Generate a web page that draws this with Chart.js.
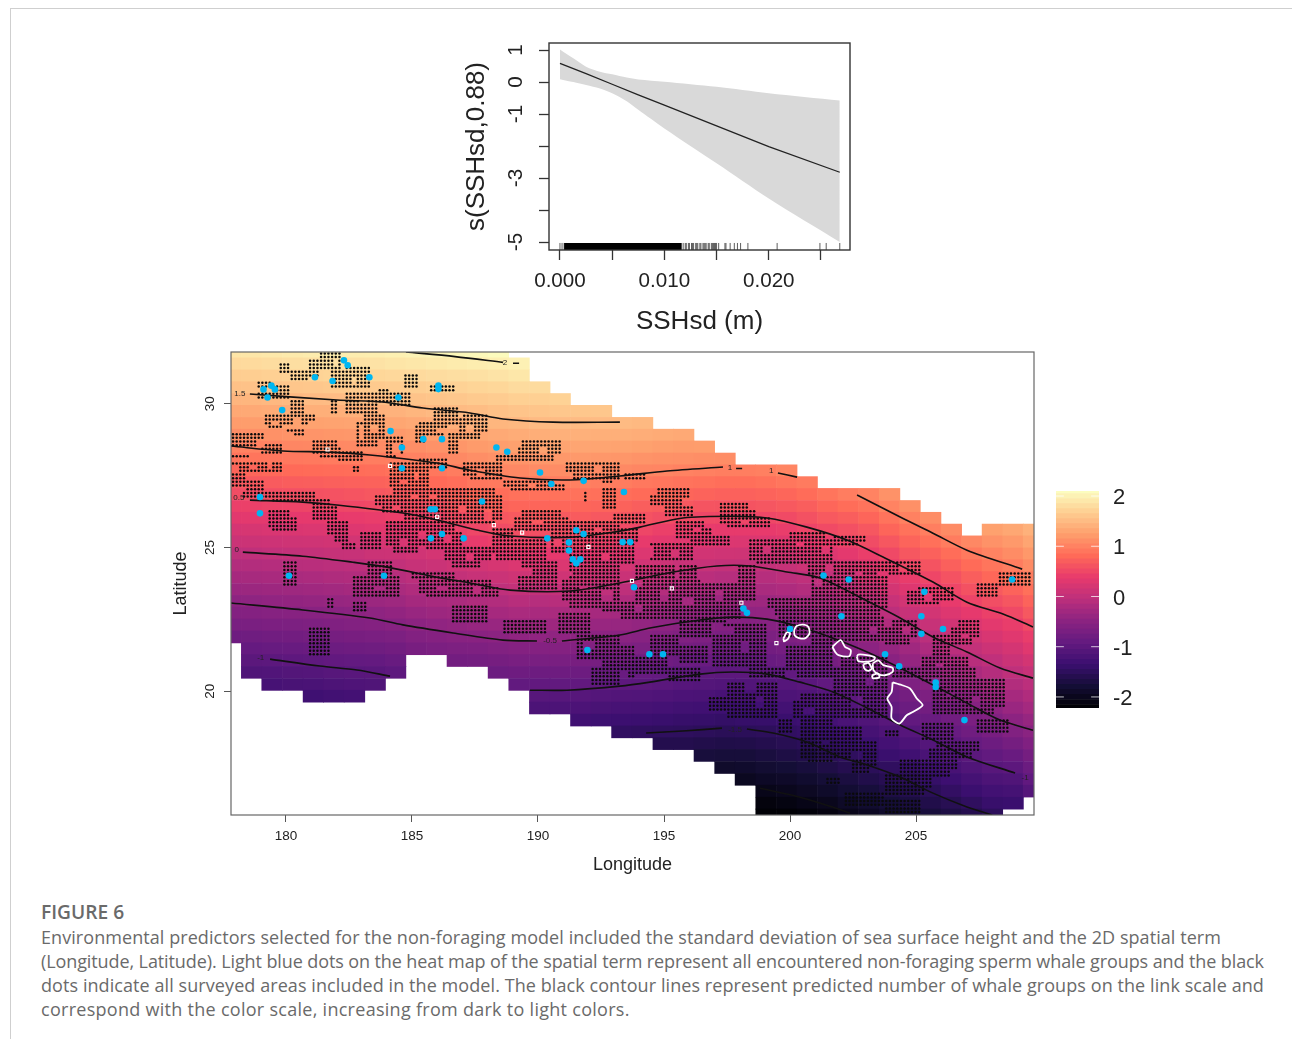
<!DOCTYPE html>
<html>
<head>
<meta charset="utf-8">
<title>Figure 6</title>
<script src="https://cdn.jsdelivr.net/npm/chart.js@4"></script>
<style>
  html, body { margin: 0; padding: 0; background: #fff; }
  body { position: relative; width: 1292px; height: 1039px; overflow: hidden; }
  canvas { position: absolute; display: block; }
  #ruleTop { position: absolute; left: 10px; top: 8px; right: 0; height: 1px; background: #cfcfcf; }
  #ruleLeft { position: absolute; left: 10px; top: 8px; bottom: 0; width: 1px; background: #cfcfcf; }
  #caption { position: absolute; left: 41px; top: 900px; font-family: "Open Sans", sans-serif; color: #6a6a6a; font-size: 18px; line-height: 24px; white-space: nowrap; }
  #caption .head { font-weight: 600; font-size: 19.2px; line-height: 24px; margin-bottom: 1px; }
</style>
</head>
<body>
<div id="ruleTop"></div>
<div id="ruleLeft"></div>
<canvas id="sshChart" width="430" height="310" style="left:440px;top:30px"></canvas>
<canvas id="mapChart" width="890" height="540" style="left:160px;top:340px"></canvas>
<canvas id="barChart" width="100" height="240" style="left:1050px;top:480px"></canvas>
<div id="caption">
  <div class="head">FIGURE 6</div>
  <div style="letter-spacing:0.065px">Environmental predictors selected for the non-foraging model included the standard deviation of sea surface height and the 2D spatial term</div>
  <div style="letter-spacing:-0.1px">(Longitude, Latitude). Light blue dots on the heat map of the spatial term represent all encountered non-foraging sperm whale groups and the black</div>
  <div style="letter-spacing:0.075px">dots indicate all surveyed areas included in the model. The black contour lines represent predicted number of whale groups on the link scale and</div>
  <div style="letter-spacing:0.28px">correspond with the color scale, increasing from dark to light colors.</div>
</div>
<script>
// smooth term panel
const sshBandX = [0, 0.00128, 0.0025, 0.00383, 0.005, 0.0064, 0.0075, 0.01, 0.015, 0.02, 0.0268];
const sshUpper = [1.02, 0.74, 0.48, 0.32, 0.24, 0.14, 0.08, 0.01, -0.15, -0.35, -0.58];
const sshLower = [0.09, 0, -0.09, -0.2, -0.35, -0.6, -0.87, -1.45, -2.54, -3.64, -5.0];
const sshFitX = [0, 0.0025, 0.005, 0.0075, 0.01, 0.015, 0.02, 0.0268];
const sshFit = [0.58, 0.26, -0.07, -0.4, -0.72, -1.37, -2.02, -2.82];
const sshXTicks = [0, 0.005, 0.01, 0.015, 0.02, 0.025];
const sshXLabelled = [0, 0.01, 0.02];
const sshYTicks = [1, 0, -1, -2, -3, -4, -5];
const sshYLabelled = [1, 0, -1, -3, -5];
const rugSolid = [0.0004, 0.01166];
const rugValues = [0, 0.0002, 0.0004, 0.0006, 0.0118, 0.012, 0.0121, 0.0123, 0.0124, 0.0126, 0.0127, 0.0128, 0.013, 0.0131, 0.0132, 0.0134, 0.0135, 0.0137, 0.0138, 0.0139, 0.014, 0.0142, 0.0143, 0.0145, 0.0146, 0.0147, 0.0148, 0.0149, 0.015, 0.0152, 0.0158, 0.0159, 0.0163, 0.0167, 0.017, 0.0173, 0.018, 0.0208, 0.0249, 0.0255, 0.0268];

// spatial term grid: one list per longitude, starting at heatTopRow
const heatLons = [177.82,178.64,179.45,180.27,181.09,181.90,182.72,183.54,184.35,185.17,185.99,186.80,187.62,188.43,189.25,190.07,190.88,191.70,192.52,193.33,194.15,194.97,195.78,196.60,197.42,198.23,199.05,199.87,200.68,201.50,202.31,203.13,203.95,204.76,205.58,206.40,207.21,208.03,208.85,209.66];
const heatLats = [31.80,31.39,30.97,30.56,30.15,29.74,29.32,28.91,28.50,28.08,27.67,27.26,26.85,26.43,26.02,25.61,25.20,24.78,24.37,23.96,23.54,23.13,22.72,22.31,21.89,21.48,21.07,20.66,20.24,19.83,19.42,19.00,18.59,18.18,17.77,17.35,16.94,16.53,16.11,15.70];
const heatTopRow = [0,0,0,0,0,0,0,0,0,0,0,0,0,0,1,3,4,5,5,6,6,7,7,8,9,10,10,10,11,12,12,12,12,13,14,15,16,15,15,15];
const heatValues = [
  [1.87,1.76,1.65,1.54,1.43,1.32,1.21,1.10,.99,.88,.76,.65,.54,.42,.31,.19,.08,-.04,-.15,-.26,-.37,-.48,-.59,-.70,-.82],
  [1.88,1.77,1.66,1.55,1.44,1.33,1.22,1.11,1.0,.89,.77,.66,.55,.43,.32,.2,.09,-.03,-.14,-.25,-.36,-.47,-.58,-.69,-.8,-.91,-1.02,-1.13],
  [1.9,1.79,1.68,1.57,1.46,1.34,1.23,1.12,1.01,.9,.79,.67,.56,.45,.33,.22,.11,0,-.12,-.23,-.34,-.45,-.56,-.67,-.78,-.89,-1.01,-1.12,-1.23],
  [1.92,1.81,1.7,1.59,1.47,1.36,1.25,1.14,1.03,.92,.8,.69,.57,.46,.35,.23,.12,.01,-.1,-.22,-.33,-.44,-.55,-.66,-.77,-.88,-.99,-1.1,-1.21],
  [1.94,1.82,1.71,1.6,1.49,1.38,1.26,1.15,1.04,.93,.81,.7,.58,.47,.35,.24,.13,.02,-.09,-.2,-.31,-.42,-.53,-.64,-.75,-.86,-.98,-1.09,-1.2,-1.31],
  [1.95,1.83,1.72,1.61,1.5,1.38,1.27,1.16,1.05,.94,.82,.71,.59,.48,.37,.26,.15,.04,-.07,-.18,-.29,-.4,-.51,-.62,-.73,-.84,-.95,-1.06,-1.17,-1.28],
  [1.95,1.84,1.73,1.62,1.51,1.39,1.28,1.17,1.06,.95,.83,.72,.61,.49,.38,.27,.16,.05,-.05,-.16,-.27,-.38,-.49,-.6,-.71,-.82,-.93,-1.04,-1.15,-1.26],
  [1.96,1.85,1.74,1.62,1.51,1.4,1.29,1.17,1.07,.96,.84,.73,.63,.51,.4,.3,.19,.09,-.03,-.14,-.25,-.36,-.47,-.58,-.69,-.8,-.92,-1.03,-1.14],
  [1.98,1.87,1.75,1.64,1.52,1.41,1.3,1.19,1.08,.97,.86,.75,.65,.53,.42,.31,.21,.1,0,-.11,-.22,-.33,-.44,-.55,-.66,-.77,-.88,-.99],
  [2,1.89,1.77,1.66,1.56,1.44,1.33,1.22,1.1,1.0,.88,.77,.67,.56,.45,.35,.25,.14,.05,-.06,-.17,-.27,-.38,-.49,-.6,-.71],
  [2.02,1.91,1.79,1.68,1.58,1.47,1.35,1.24,1.13,1.02,.91,.8,.7,.59,.48,.38,.28,.18,.08,-.02,-.13,-.24,-.35,-.46,-.57,-.68],
  [2.04,1.93,1.81,1.7,1.6,1.49,1.38,1.27,1.16,1.06,.95,.84,.74,.64,.54,.44,.34,.23,.13,.01,-.1,-.21,-.32,-.43,-.54,-.65,-.76],
  [2.05,1.95,1.83,1.72,1.62,1.51,1.41,1.3,1.2,1.1,1.0,.9,.8,.69,.59,.49,.38,.27,.16,.05,-.06,-.17,-.29,-.4,-.52,-.64,-.75],
  [2.08,1.97,1.86,1.74,1.64,1.54,1.44,1.33,1.23,1.13,1.03,.93,.83,.73,.63,.53,.42,.31,.2,.08,-.03,-.15,-.26,-.38,-.5,-.61,-.73,-.84],
  [1.99,1.89,1.78,1.68,1.57,1.46,1.35,1.25,1.15,1.05,.96,.86,.76,.66,.56,.46,.35,.24,.12,.01,-.1,-.22,-.34,-.46,-.58,-.7,-.82,-.94],
  [1.78,1.68,1.58,1.48,1.37,1.27,1.17,1.07,.96,.86,.76,.66,.56,.45,.34,.23,.12,.01,-.11,-.23,-.34,-.46,-.58,-.7,-.83,-.95,-1.06,-1.18],
  [1.7,1.6,1.49,1.39,1.28,1.18,1.08,.97,.87,.77,.66,.56,.46,.35,.24,.13,.02,-.1,-.22,-.34,-.46,-.58,-.7,-.82,-.94,-1.06,-1.18],
  [1.6,1.49,1.39,1.29,1.19,1.08,.98,.87,.77,.67,.56,.46,.35,.24,.13,.02,-.1,-.23,-.35,-.47,-.59,-.71,-.83,-.95,-1.06,-1.18,-1.3],
  [1.6,1.49,1.38,1.28,1.17,1.07,.96,.85,.75,.64,.54,.43,.32,.2,.09,-.03,-.14,-.26,-.38,-.49,-.61,-.73,-.85,-.97,-1.09,-1.21,-1.33],
  [1.49,1.38,1.27,1.16,1.06,.95,.84,.73,.63,.52,.41,.3,.18,.07,-.04,-.16,-.28,-.39,-.51,-.63,-.75,-.87,-.99,-1.11,-1.23,-1.35,-1.47],
  [1.47,1.36,1.25,1.14,1.03,.92,.81,.7,.59,.48,.36,.25,.14,.02,-.09,-.2,-.32,-.43,-.55,-.66,-.78,-.89,-1.0,-1.12,-1.24,-1.36,-1.48],
  [1.34,1.23,1.12,1.02,.9,.79,.67,.55,.43,.32,.21,.1,-.02,-.13,-.24,-.35,-.47,-.58,-.69,-.81,-.92,-1.03,-1.15,-1.26,-1.38,-1.49,-1.61],
  [1.33,1.21,1.11,1.0,.88,.76,.64,.52,.41,.29,.18,.06,-.05,-.17,-.28,-.39,-.5,-.61,-.73,-.85,-.96,-1.07,-1.18,-1.29,-1.4,-1.5,-1.61],
  [1.22,1.1,.98,.86,.74,.61,.49,.38,.27,.15,.04,-.08,-.19,-.31,-.42,-.53,-.64,-.75,-.87,-.98,-1.09,-1.19,-1.3,-1.41,-1.52,-1.63,-1.74],
  [1.09,.97,.84,.72,.6,.48,.36,.25,.13,.01,-.11,-.22,-.34,-.45,-.57,-.68,-.79,-.9,-1.0,-1.11,-1.22,-1.32,-1.43,-1.54,-1.65,-1.76,-1.88],
  [.97,.84,.72,.6,.48,.36,.24,.12,0,-.11,-.23,-.34,-.46,-.57,-.68,-.79,-.89,-1,-1.11,-1.21,-1.31,-1.41,-1.53,-1.64,-1.76,-1.87,-1.98],
  [.98,.86,.74,.62,.49,.37,.25,.13,.01,-.11,-.22,-.34,-.45,-.56,-.66,-.77,-.88,-.98,-1.09,-1.19,-1.3,-1.4,-1.51,-1.61,-1.72,-1.82,-1.93,-2.04,-2.14,-2.2],
  [1.02,.9,.77,.65,.52,.4,.28,.16,.04,-.07,-.19,-.3,-.42,-.53,-.63,-.74,-.85,-.96,-1.07,-1.17,-1.27,-1.37,-1.47,-1.57,-1.68,-1.79,-1.9,-2.0,-2.11,-2.2],
  [.94,.82,.7,.58,.46,.34,.22,.1,-.02,-.14,-.25,-.37,-.49,-.6,-.7,-.81,-.92,-1.03,-1.13,-1.23,-1.33,-1.43,-1.53,-1.64,-1.74,-1.85,-1.95,-2.06,-2.17],
  [.89,.77,.65,.52,.39,.26,.13,0,-.1,-.21,-.32,-.42,-.53,-.64,-.75,-.86,-.96,-1.07,-1.17,-1.26,-1.36,-1.46,-1.56,-1.67,-1.78,-1.89,-2.01,-2.12],
  [.96,.83,.7,.57,.45,.33,.22,.1,-.01,-.13,-.24,-.36,-.47,-.58,-.68,-.79,-.9,-1.01,-1.11,-1.2,-1.3,-1.4,-1.49,-1.6,-1.71,-1.81,-1.92,-2.03],
  [1.01,.88,.76,.63,.53,.41,.3,.19,.07,-.04,-.16,-.28,-.39,-.5,-.61,-.71,-.82,-.93,-1.04,-1.14,-1.24,-1.33,-1.43,-1.53,-1.64,-1.75,-1.85,-1.96],
  [1.13,1.01,.88,.76,.63,.51,.4,.28,.17,.06,-.06,-.17,-.29,-.41,-.52,-.63,-.74,-.84,-.95,-1.05,-1.16,-1.26,-1.37,-1.48,-1.58,-1.68,-1.78,-1.88],
  [1.11,.99,.87,.75,.63,.5,.39,.27,.16,.05,-.07,-.19,-.31,-.42,-.54,-.64,-.75,-.85,-.95,-1.07,-1.18,-1.3,-1.41,-1.52,-1.62,-1.72,-1.83],
  [1.09,.97,.85,.72,.6,.48,.37,.27,.16,.05,-.07,-.19,-.31,-.43,-.55,-.65,-.76,-.87,-.98,-1.09,-1.2,-1.31,-1.42,-1.54,-1.64,-1.74],
  [1.07,.95,.83,.71,.59,.48,.37,.26,.15,.04,-.08,-.2,-.33,-.45,-.56,-.67,-.78,-.89,-1.0,-1.11,-1.22,-1.34,-1.45,-1.57,-1.68],
  [1.05,.93,.81,.7,.58,.46,.35,.24,.13,.01,-.1,-.22,-.34,-.46,-.57,-.68,-.79,-.9,-1.02,-1.13,-1.25,-1.36,-1.48,-1.6],
  [1.25,1.13,1.01,.89,.78,.66,.55,.43,.32,.21,.1,-.02,-.13,-.25,-.36,-.48,-.6,-.71,-.83,-.94,-1.05,-1.17,-1.28,-1.39,-1.51],
  [1.31,1.19,1.08,.96,.85,.74,.62,.51,.4,.29,.18,.08,-.03,-.15,-.26,-.37,-.49,-.61,-.74,-.87,-1.0,-1.13,-1.25,-1.37],
  [1.4,1.29,1.18,1.07,.96,.85,.74,.64,.52,.4,.29,.17,.06,-.06,-.17,-.28,-.4,-.51,-.62,-.74,-.85,-.96,-1.08]
];
const colorbarLevels = [2.1,2,1.9,1.8,1.7,1.6,1.5,1.4,1.3,1.2,1.1,1,.9,.8,.7,.6,.5,.4,.3,.2,.1,0,-.1,-.2,-.3,-.4,-.5,-.6,-.7,-.8,-.9,-1,-1.1,-1.2,-1.3,-1.4,-1.5,-1.6,-1.7,-1.8,-1.9,-2,-2.1,-2.2];
const colorbarTicks = [2, 1, 0, -1, -2];

// contour lines as [lon, lat], null where the line breaks for a label
const contour2 = [[184.76,31.8],[186.71,31.64],[188.61,31.44],null,[189.01,31.41],[189.25,31.41]];
const contour15 = [[178.57,30.34],[182.02,30.13],[183.85,30.06],[185.44,29.85],[187.3,29.68],[188.61,29.47],[190.6,29.36],[193.25,29.36]];
const contour1 = [[177.82,28.53],[179.88,28.36],[181.75,28.32],[183.33,28.22],[185.99,27.94],[187.3,27.69],[189.29,27.42],[191.27,27.35],[193.25,27.49],[195.12,27.66],[197.34,27.8],null,[197.86,27.75],[198.1,27.75],null,[199.52,27.59],[200.28,27.45],null,[202.66,26.83],[204.37,26.06],[205.67,25.5],[207.02,24.91],[209.21,24.25]];
const contour05 = [[178.57,26.65],[180.67,26.58],[182.02,26.48],[184.64,26.2],[185.99,25.96],[187.58,25.61],[188.89,25.4],[191.27,25.36],[193.25,25.57],[194.05,25.71],[195.75,26.03],[197.74,26.09],[199.09,26.03],[200.67,25.71],[202.26,25.26],[203.69,24.67],[205.67,23.8],[207.02,23.1],[208.45,22.69],[209.64,22.24]];
const contour0 = [[178.29,24.84],[180.67,24.7],[182.66,24.49],[184.01,24.32],[185.99,23.97],[187.3,23.77],[188.89,23.52],[191.27,23.49],[193.25,23.77],[195.36,24.15],[197.1,24.36],[198.41,24.36],[199.88,24.15],[201.19,23.94],[203.06,23.14],[204.37,22.55],[205.67,21.89],[207.02,21.37],[208.33,20.81],[209.64,20.46]];
const contourM05 = [[177.82,23.07],[180.67,22.83],[183.33,22.55],[184.64,22.31],[186.63,22.03],[188.61,21.78],[189.96,21.75],null,[190.95,21.75],[193.25,21.96],[194.44,22.2],[196.43,22.48],[197.74,22.58],[199.09,22.51],[200.4,22.24],[201.71,21.85],[203.06,21.37],[204.37,20.81],[205.67,20.22],[207.02,19.59],[208.33,19.0],[209.64,18.65]];
const contourM1 = [[179.37,21.12],[181.35,20.88],[182.82,20.74],[184.13,20.53],null,[189.68,20.04],[191.15,20.04],[193.25,20.18],[194.44,20.32],[196.43,20.6],[197.74,20.67],[199.09,20.6],[200.4,20.32],[201.71,19.98],[203.06,19.42],[204.37,18.83],[205.67,18.31],[207.02,17.72],[208.93,17.16]];
const contourM15 = [[194.29,18.55],[195.75,18.62],[197.3,18.72],null,[198.29,18.69],[199.33,18.55],[200.67,18.24],[201.98,17.72],[203.06,17.44],[204.37,17.02],[205.67,16.46],[207.02,15.98],[208.02,15.7]];
const contourM2 = [[198.81,16.63],[200.4,16.32],[201.71,15.97],[202.38,15.76]];
const contourLabelText = ['2', '1.5', '1', '1', '0.5', '0', '-0.5', '-1', '-1', '-1.5'];
const contourLabelLon = [188.69, 178.17, 197.62, 199.25, 178.13, 178.05, 190.48, 179.0, 209.33, 197.82];
const contourLabelLat = [31.41, 30.34, 27.76, 27.66, 26.72, 24.91, 21.75, 21.15, 17.01, 18.68];

// encountered groups
const groupLons = [182.3,182.45,181.15,181.85,183.31,186.05,186.05,179.42,179.11,179.56,179.27,184.46,179.85,184.15,184.6,185.45,186.19,188.35,188.78,184.6,186.19,190.08,190.53,191.81,178.97,178.97,187.78,185.74,185.91,185.75,186.19,187.05,190.37,191.23,191.23,191.52,191.81,191.38,191.52,191.68,180.12,183.89,193.41,193.36,193.66,193.81,201.33,202.33,205.33,208.81,198.15,198.29,191.96,202.04,205.21,205.21,206.07,200,194.42,194.96,203.77,204.33,205.78,205.78,206.92];
const groupLats = [31.51,31.34,30.92,30.79,30.92,30.63,30.51,30.63,30.5,30.5,30.22,30.22,29.78,29.05,28.48,28.77,28.77,28.48,28.33,27.76,27.76,27.61,27.21,27.32,26.76,26.19,26.6,26.33,26.33,25.32,25.47,25.32,25.32,25.18,24.9,25.6,25.47,24.59,24.45,24.59,24.02,24.02,26.93,25.19,25.19,23.62,24.03,23.89,23.46,23.89,22.88,22.73,21.44,22.61,22.61,22,22.17,22.17,21.29,21.29,21.29,20.87,20.31,20.15,19];

// small white islets
const isletLons = [181.65,184.13,186.0,188.25,189.37,192.0,193.73,195.31,198.07,199.46];
const isletLats = [28.41,27.84,26.07,25.78,25.52,25.02,23.84,23.58,23.08,21.68];

const islandKauai = [[200.16,22.13],[200.26,22.27],[200.53,22.32],[200.73,22.24],[200.77,22.01],[200.59,21.84],[200.33,21.86],[200.18,21.95]];
const islandNiihau = [[199.74,21.84],[199.87,22.05],[200.0,22.03],[199.93,21.84],[199.76,21.74]];
const islandOahu = [[201.68,21.55],[202.01,21.78],[202.18,21.55],[202.41,21.43],[202.35,21.22],[201.92,21.26],[201.79,21.37]];
const islandMolokai = [[202.65,21.2],[202.71,21.28],[203.04,21.26],[203.37,21.18],[203.31,21.08],[203.04,21.03],[202.71,21.05]];
const islandLanai = [[202.91,20.94],[203.11,20.99],[203.24,20.79],[203.11,20.71],[202.95,20.79]];
const islandMaui = [[203.28,20.97],[203.5,21.08],[203.7,20.91],[204.07,20.82],[204.07,20.68],[203.77,20.56],[203.5,20.6],[203.31,20.74]];
const islandKahoolawe = [[203.25,20.56],[203.5,20.62],[203.54,20.48],[203.28,20.46]];
const islandHawaii = [[204.07,20.31],[204.43,20.22],[204.76,20.1],[205.03,19.75],[205.26,19.52],[204.89,19.29],[204.63,19.17],[204.34,18.88],[204.03,19.06],[204.03,19.46],[203.86,19.75],[204.03,19.98]];
const islands = [islandKauai, islandNiihau, islandOahu, islandMolokai, islandLanai, islandMaui, islandKahoolawe, islandHawaii];

// surveyed patches on the survey grid: [lon min, lon max, lat min, lat max]
const surveyLonOrigin = 177.9, surveyLonStep = 0.1456;
const surveyLatOrigin = 15.8, surveyLatStep = 0.1276;
const surveyPatches = [
  [178.85,179.45,30.5,30.85],[179.45,180.15,30.1,30.7],[178.9,179.4,30.1,30.35],[180.1,180.8,29.7,30.15],[179.1,179.9,29.15,29.65],[179.9,181.2,29.2,29.6],[180,180.7,28.85,29.15],[178.8,178.9,29.3,29.65],
  [179.7,180.2,31.0,31.4],[180.2,180.95,30.75,31.15],[180.95,181.35,30.9,31.55],[181.35,182.2,31.2,31.75],[181.75,182.3,30.5,31.2],[182.3,183.35,30.5,31.3],[181.7,182,29.7,30.1],[182.4,183.6,29.6,30.45],
  [183.6,184.1,30,30.5],[184.1,184.9,29.85,30.35],[182.8,184,28.45,29.6],[184,184.7,28.1,28.9],[185.05,186.4,28.9,29.4],[185.05,185.6,28.6,28.9],[185.85,186.8,29.3,29.95],[186.8,187.95,28.7,29.65],[186.4,186.9,28.3,28.95],
  [184.6,185.3,30.6,31.1],[185.7,186.65,30.4,30.7],[177.9,179.2,28.55,28.95],[178.95,179.9,28.3,28.65],[177.9,178.6,28.05,28.3],[177.9,179.8,27.6,28],[177.9,178.35,27.15,27.55],[178.4,179.1,26.9,27.4],[178.2,179.4,26.65,27],
  [179.4,181.2,26.6,26.95],[181,181.75,26.25,26.7],[179.25,180.5,25.5,26.35],[181.1,182.1,25.9,26.5],[181.65,182.55,25.2,25.9],[182.2,182.8,24.95,25.2],[181.05,182.25,28.05,28.7],[182,183.05,28,28.35],[182.7,182.95,27.6,27.85],
  [184.1,185.65,27.1,27.95],[184.2,185.55,26.85,27.1],[185.3,186.4,27.7,28.15],[187.05,188.6,27.3,27.95],[188.6,191.1,27,27.4],[189.15,191,28,28.75],[188.3,189.15,28,28.25],[191.05,193.25,27.4,27.98],[191.8,192,26.6,26.95],[192.6,193.1,26.35,26.95],
  [183.5,185.45,26.15,26.85],[185.2,188.6,26.45,27.05],[184.7,188.6,25.8,26.45],[184,185.6,24.85,25.9],[185.6,187,24.9,25.8],[182.95,183.85,24.95,25.55],[186.25,188.1,24.3,25.1],[188.1,189,24.85,25.65],[189,191.25,25.55,26.35],[188.25,190.35,24.6,25.3],[189.4,190.85,24.05,24.6],
  [190.5,193.25,24.85,26],[191.15,193.25,23.95,24.85],[182.65,184.5,23.25,24],[183.2,184.25,24.05,24.5],[184.9,186.65,23.95,24.2],[185.2,188.5,23.25,23.95],[189.15,190.75,23.55,24],[190.9,193.25,22.9,23.9],[179.85,180.4,23.7,24.6],[181.55,181.9,22.9,23.25],[182.65,183.2,22.75,23.1],
  [186.6,187.95,22.4,23.05],[188.6,190.4,21.95,22.45],[190.75,192.1,21.95,22.75],[191.55,193.25,21.1,22.05],[192.05,193.25,20.25,20.9],[180.95,181.75,21.25,22.2],
  [192.46,193,27.2,28],[192.46,193.1,26.35,27.15],[193.45,194.25,27.4,27.65],[194.4,196,26.5,27.05],[195,196.15,26.1,26.4],[193,194.3,25.85,26.15],[192.46,194.05,25.2,25.7],[192.46,193.9,24.4,25.2],[192.46,193.25,23.65,24.4],[193.9,195.5,23.95,24.4],[194.45,196.15,24.5,25.2],[195.5,196.95,25.3,26],[196,197.6,25,25.4],
  [197.2,198.65,25.65,26.55],[197.2,199.2,25.65,26.1],[198.3,200.65,24.4,25.35],[200,201.7,24.4,25.6],[201.7,203.05,25,25.4],[200.65,201.45,24,24.55],[201.7,203.85,23.45,24.5],[203.45,205.15,24,24.55],[204.65,206.5,23,23.7],[207.35,208.3,23.3,23.8],[208.33,209.5,23.7,24.1],
  [193.9,196.4,22.65,23.93],[196.4,197.9,22.65,23.8],[197.9,198.65,23.1,24.4],[199.05,200.9,22.65,23.25],[200.9,203.95,22.65,24],[195.6,196.3,23.8,24.4],
  [192.46,193.25,22.7,23.17],[193.25,195.9,22.55,23.17],[195.9,198,22.55,23.17],[195.65,197.5,21.85,22.5],[194.45,195.65,21.25,22.05],[192.46,193.8,20.75,21.65],[195.65,196.8,20.95,21.55],[192.7,193.1,20.5,20.8],[193.5,193.9,20.4,20.8],[193.8,195.1,20.55,21.25],[195.1,196.4,20.3,20.8],
  [196.95,199.05,20.85,22.35],[198.3,199.85,20.5,20.85],[197.5,199.5,19.1,20.3],[196.7,197.75,19.3,19.8],[199.5,200.9,21.9,22.65],[200.9,201.7,21.65,22.7],[199.85,201.7,20.5,21.65],[201.7,203.8,21.7,22.7],[203.8,205.1,21.55,22.5],[201.7,203.95,19.8,21.2],[200.05,201.7,18.75,20],[199.5,200.1,18.55,19],[201.7,203.85,19.1,19.8],
  [200.4,202.9,17.7,18.75],[200.65,201.7,17.5,17.7],[202.4,203.45,17.15,18.3],[203.7,204.35,18.4,18.65],[201.45,202,16.7,17.05],[202.1,203.7,15.95,16.55],[203.7,205.7,16.35,17.15],[203.7,205.2,15.78,16.2],[204.37,206.7,16.98,17.6],[205.45,207.55,17.62,18.3],[205.2,206.5,18.3,18.9],
  [205.7,208.5,19.2,20.5],[207.4,208.7,18.55,19],[205.15,207.4,20.3,21.2],[206.35,207.6,21.55,22.47],[205.7,206.35,21.2,22],[204,205.7,20.4,20.85]
];
// unsurveyed holes and notches in those patches
const surveyGaps = [
  [183.4,183.7,29.0,29.3],[182.9,183.1,28.8,29.2],[184.3,184.5,28.3,28.6],[186.0,186.4,29.0,29.15],[187.2,187.5,29,29.3],[180.3,180.6,29.3,29.5],[179.5,179.7,29.2,29.4],[182.9,183.2,30,30.2],[182.6,182.8,30.7,30.95],[181.9,182.1,31.3,31.5],
  [178.5,178.8,27.7,27.9],[179.3,179.5,27.7,28],[185.1,185.3,27.4,27.6],[184.5,184.8,27.2,27.4],[187.6,187.9,27.5,27.7],[190,190.3,28.3,28.5],[189.6,189.9,27.1,27.25],[192.2,192.5,27.6,27.8],[184.2,184.5,26.3,26.5],[185.7,186,26.7,26.9],
  [186.8,187.1,26.2,26.5],[187.9,188.2,26,26.3],[185.2,185.5,25.3,25.5],[184.5,184.8,25.1,25.3],[186.3,186.6,25.2,25.4],[187.2,187.5,24.6,24.8],[189.8,190.2,25.8,26],[190.7,191,25.1,25.3],[192.3,192.6,25.5,25.7],[192.5,192.8,24.5,24.8],
  [191.7,192,23.5,23.7],[192.6,193,23.2,23.5],[186,186.4,23.5,23.7],[187.4,187.7,23.4,23.6],[183.5,183.9,23.5,23.7],[191.8,192.2,21.5,21.7],
  [194.2,194.6,24.7,25],[195.3,195.6,24.7,24.9],[196.2,196.5,25.5,25.7],[198,198.3,25.8,26],[199,199.3,24.8,25],[200.2,200.5,25,25.2],[201.2,201.5,24.8,25],[202.6,202.9,24,24.2],[204.3,204.6,24.2,24.4],[205.3,205.6,23.2,23.4],
  [194.8,195.2,23.2,23.5],[195.8,196.1,23,23.3],[197.1,197.4,23.2,23.5],[193.9,194.2,22.7,23],[197.4,197.8,22,22.3],[198,198.4,21.4,21.7],[198.2,198.6,20,20.3],[198.6,199,19.5,19.8],[200.6,201,19.2,19.5],[202.5,202.8,19.5,19.8],
  [203,203.3,20.2,20.5],[201.3,201.6,18.1,18.3],[206.2,206.5,19.8,20],[207.2,207.5,19.5,19.8],[205.8,206.1,20.8,21],[206.8,207.1,21.8,22],[203.2,203.5,22,22.3],[204.5,204.8,22,22.2],
  [185.05,185.3,29.2,29.4],[186.2,186.4,28.9,29.1],[187.7,187.95,28.7,29],[186.8,187,29.5,29.65],[183.7,184,28.45,28.7],[182.8,183,29.4,29.6],[184.4,184.7,28.1,28.3],[180,180.3,28.85,29],[180.9,181.2,29.2,29.35],[179.1,179.3,29.15,29.3],
  [177.9,178.1,27.6,27.8],[178.9,179.2,28.55,28.7],[181.05,181.3,28.05,28.25],[182,182.25,28.5,28.7],[188.6,188.9,27,27.15],[190.7,191.1,27.25,27.4],[189.15,189.4,28.5,28.75],[190.7,191,28,28.2],[191.05,191.3,27.4,27.55],[187.05,187.3,27.3,27.5],
  [183.5,183.8,26.15,26.4],[184.9,185.2,26.65,26.85],[188.3,188.6,26.8,27.05],[188.3,188.6,25.8,26],[184,184.2,24.85,25.1],[185.3,185.6,24.85,25],[186.7,187,25.5,25.8],[181.65,181.9,25.2,25.4],[179.25,179.5,25.5,25.7],[180.2,180.5,26.1,26.35],
  [186.25,186.5,24.3,24.5],[187.8,188.1,24.3,24.5],[189,189.3,26.1,26.35],[191,191.25,26.1,26.35],[189.4,189.7,24.05,24.25],[185.2,185.6,23.25,23.45],[188.1,188.5,23.7,23.95],[190.9,191.2,22.9,23.1],[191.15,191.4,24,24.2],
  [194.4,194.7,26.8,27.05],[195.7,196,26.5,26.7],[196.6,196.95,25.7,26],[198.3,198.65,26.3,26.55],[197.2,197.5,25.65,25.85],[198.3,198.6,24.4,24.6],[201.4,201.7,25.3,25.6],[202.7,203.05,25,25.15],[203.5,203.85,24,24.2],[205.9,206.5,23,23.2],
  [204.65,205,23.5,23.7],[193.9,194.2,23.7,23.93],[199.05,199.4,22.65,22.9],[201,201.3,23.6,23.9],[203.6,203.95,22.65,22.9],[203.8,204.1,22.2,22.5],[204.8,205.1,21.55,21.8],[199.85,200.2,20.5,20.75],[196.95,197.3,22,22.35],[200.05,200.4,19.7,20],
  [200.05,200.4,18.75,19],[201.7,202,20.9,21.2],[202.5,202.9,17.7,17.95],[203.1,203.45,17.15,17.4],[205.3,205.7,16.35,16.6],[206.3,206.7,17.0,17.3],[207.2,207.55,17.62,17.85],[205.45,205.75,18,18.3],[205.7,206,20.2,20.5],[208.1,208.5,19.2,19.5],
  [207.1,207.4,20.8,21.2],[207.3,207.6,21.55,21.8],[206.35,206.6,22.2,22.47]
];
const mapXTicks = [180, 185, 190, 195, 200, 205];
const mapYTicks = [20, 25, 30];
const magmaStops = ['#000004','#140e36','#3b0f70','#641a80','#8c2381','#bc2f7c','#e83a6c','#ff6a58','#fe9f6d','#fecf92','#fcfdbf'];

function hexRgb(hex) {
    return [1, 3, 5].map(i => parseInt(hex.slice(i, i + 2), 16));
}
function heatColor(v) {
    const t = Math.min(1, Math.max(0, (v + 2.22) / 4.32)) * (magmaStops.length - 1);
    const i = Math.min(magmaStops.length - 2, Math.floor(t));
    const a = hexRgb(magmaStops[i]), b = hexRgb(magmaStops[i + 1]);
    const c = a.map((n, k) => Math.round(n + (b[k] - n) * (t - i)));
    return `rgb(${c[0]},${c[1]},${c[2]})`;
}
function fixedTicks(values) {
    return scale => { scale.ticks = values.map(value => ({ value })); };
}
function toXY(list) {
    return list.map(p => p ? { x: p[0], y: p[1] } : { x: null, y: null });
}
// keep the plot area where the layout padding puts it, labels may overhang
function fitScale(size) {
    return s => {
        if (s.isHorizontal()) s.height = size; else s.width = size;
        s.paddingTop = s.paddingBottom = s.paddingLeft = s.paddingRight = 0;
    };
}

const boxPlugin = {
    id: 'box',
    afterDraw(chart, args, opts) {
        const { ctx, chartArea: a } = chart;
        ctx.save();
        ctx.strokeStyle = opts.color;
        ctx.lineWidth = opts.width;
        ctx.strokeRect(a.left, a.top, a.right - a.left, a.bottom - a.top);
        ctx.restore();
    }
};
Chart.register(boxPlugin);
Chart.defaults.font.family = '"Liberation Sans", Arial, sans-serif';
Chart.defaults.animation = false;
Chart.defaults.responsive = false;
Chart.defaults.devicePixelRatio = 1;
Chart.defaults.events = [];
Chart.defaults.plugins.legend.display = false;
Chart.defaults.plugins.tooltip.enabled = false;

// top panel
new Chart(document.getElementById('sshChart'), {
    type: 'line',
    data: {
        datasets: [
            { data: sshBandX.map((x, i) => ({ x, y: sshUpper[i] })), borderWidth: 0, pointRadius: 0, backgroundColor: '#d9d9d9', fill: '+1', tension: 0.3, order: 5 },
            { data: sshBandX.map((x, i) => ({ x, y: sshLower[i] })), borderWidth: 0, pointRadius: 0, tension: 0.3, order: 5 },
            { data: sshFitX.map((x, i) => ({ x, y: sshFit[i] })), borderColor: '#222', borderWidth: 1.3, pointRadius: 0, order: 2 },
            { data: rugSolid.map(x => ({ x, y: -5.14 })), borderColor: '#000', borderWidth: 7, pointRadius: 0, order: 1 },
            { type: 'scatter', data: rugValues.map(x => ({ x, y: -5.14 })), pointStyle: 'line', pointRotation: 90, pointRadius: 3.5, pointBorderWidth: 0.8, pointBorderColor: 'rgba(0,0,0,0.8)', order: 1 }
        ]
    },
    options: {
        layout: { padding: { top: 13, right: 20 } },
        plugins: { box: { color: '#333', width: 1.4 } },
        scales: {
            x: {
                type: 'linear', min: -0.00105, max: 0.02778, offset: false,
                grid: { drawOnChartArea: false, tickLength: 10, tickColor: '#333', tickWidth: 1.3 },
                border: { display: false },
                afterBuildTicks: fixedTicks(sshXTicks),
                afterFit: fitScale(90),
                ticks: {
                    autoSkip: false, maxRotation: 0, padding: 9, color: '#222', font: { size: 20.6 },
                    callback: v => sshXLabelled.includes(v) ? v.toFixed(3) : ''
                },
                title: { display: true, text: 'SSHsd (m)', color: '#222', font: { size: 26 }, padding: { top: 0, bottom: 3 } }
            },
            y: {
                type: 'linear', min: -5.25, max: 1.22,
                grid: { drawOnChartArea: false, tickLength: 10, tickColor: '#333', tickWidth: 1.3 },
                border: { display: false },
                afterBuildTicks: fixedTicks(sshYTicks),
                afterFit: fitScale(109),
                ticks: {
                    autoSkip: false, minRotation: 90, maxRotation: 90, crossAlign: 'center', padding: 14, color: '#222', font: { size: 20.6 },
                    callback: v => sshYLabelled.includes(v) ? String(v) : ''
                },
                title: { display: true, text: 's(SSHsd,0.88)', color: '#222', font: { size: 26 }, padding: { top: 21, bottom: 0 } }
            }
        }
    }
});

// map panel
const heatCells = [];
heatValues.forEach((column, c) => {
    column.forEach((v, i) => {
        const lat = heatLats[heatTopRow[c] + i];
        heatCells.push({ x: heatLons[c], y: [lat - 0.2064, lat + 0.2064], v });
    });
});
const surveyKeys = new Set();
surveyPatches.forEach(p => {
    const k0 = Math.ceil((p[0] - surveyLonOrigin) / surveyLonStep), k1 = Math.floor((p[1] - surveyLonOrigin) / surveyLonStep);
    const m0 = Math.ceil((p[2] - surveyLatOrigin) / surveyLatStep), m1 = Math.floor((p[3] - surveyLatOrigin) / surveyLatStep);
    for (let k = k0; k <= k1; k++) for (let m = m0; m <= m1; m++) surveyKeys.add(k + ':' + m);
});
const surveyDots = [...surveyKeys].map(key => {
    const [k, m] = key.split(':').map(Number);
    return { x: surveyLonOrigin + k * surveyLonStep, y: surveyLatOrigin + m * surveyLatStep };
}).filter(d => !surveyGaps.some(g => d.x >= g[0] && d.x <= g[1] && d.y >= g[2] && d.y <= g[3]));
const contourDatasets = [contour2, contour15, contour1, contour05, contour0, contourM05, contourM1, contourM15, contourM2].map(line => ({
    type: 'line', data: toXY(line), borderColor: '#111', borderWidth: 1.6, pointRadius: 0, tension: 0.3, spanGaps: false, order: 4
}));
const islandDatasets = islands.map(shape => ({
    type: 'line', data: toXY(shape.concat([shape[0]])), borderColor: '#fff', borderWidth: 1.8, pointRadius: 0, tension: 0.25, order: 3
}));
const contourLabelPlugin = {
    id: 'contourLabels',
    afterDatasetsDraw(chart) {
        const { ctx, scales: { x, y } } = chart;
        ctx.save();
        ctx.fillStyle = '#222';
        ctx.font = '8px "Liberation Sans", Arial, sans-serif';
        ctx.textAlign = 'center';
        ctx.textBaseline = 'middle';
        contourLabelText.forEach((t, i) => {
            ctx.fillText(t, x.getPixelForValue(contourLabelLon[i]), y.getPixelForValue(contourLabelLat[i]));
        });
        ctx.restore();
    }
};
new Chart(document.getElementById('mapChart'), {
    type: 'bar',
    data: {
        datasets: [
            { type: 'bar', data: heatCells, barThickness: 20.6, backgroundColor: c => heatColor(c.raw.v), borderWidth: 0, order: 9 },
            { type: 'scatter', data: surveyDots, pointStyle: 'circle', pointRadius: 1.25, pointBorderWidth: 0, pointBackgroundColor: '#0a0a0a', order: 6 },
            ...contourDatasets,
            ...islandDatasets,
            { type: 'scatter', data: isletLons.map((x, i) => ({ x, y: isletLats[i] })), pointStyle: 'rect', pointRadius: 2.2, pointBorderWidth: 1.1, pointBorderColor: '#fff', pointBackgroundColor: 'rgba(0,0,0,0)', order: 2 },
            { type: 'scatter', data: groupLons.map((x, i) => ({ x, y: groupLats[i] })), pointStyle: 'circle', pointRadius: 3.3, pointBorderWidth: 0, pointBackgroundColor: '#00b6f1', order: 1 }
        ]
    },
    options: {
        layout: { padding: { top: 12, right: 16 } },
        plugins: { box: { color: '#666', width: 1.2 } },
        scales: {
            x: {
                type: 'linear', min: 177.82, max: 209.68, offset: false,
                grid: { display: true, drawOnChartArea: false, offset: false, tickLength: 7, tickColor: '#555', tickWidth: 1 },
                border: { display: false },
                afterBuildTicks: fixedTicks(mapXTicks),
                afterFit: fitScale(65),
                ticks: { autoSkip: false, maxRotation: 0, padding: 6, color: '#222', font: { size: 13.5 }, callback: v => String(v) },
                title: { display: true, text: 'Longitude', color: '#222', font: { size: 18 }, padding: { top: 0, bottom: 4 } }
            },
            y: {
                type: 'linear', min: 15.7, max: 31.8, beginAtZero: false,
                grid: { drawOnChartArea: false, tickLength: 7, tickColor: '#555', tickWidth: 1 },
                border: { display: false },
                afterBuildTicks: fixedTicks(mapYTicks),
                afterFit: fitScale(71),
                ticks: { autoSkip: false, minRotation: 90, maxRotation: 90, crossAlign: 'center', padding: 6, color: '#222', font: { size: 13.5 }, callback: v => String(v) },
                title: { display: true, text: 'Latitude', color: '#222', font: { size: 18 }, padding: { top: 10, bottom: 0 } }
            }
        }
    },
    plugins: [contourLabelPlugin]
});

// colour bar
new Chart(document.getElementById('barChart'), {
    type: 'bar',
    data: {
        datasets: [
            { type: 'bar', data: colorbarLevels.map(v => ({ x: 0.5, y: [v - 0.05, v + 0.05], v })), barThickness: 43, backgroundColor: c => heatColor(c.raw.v), borderWidth: 0, order: 5 },
            { type: 'scatter', data: colorbarTicks.map(y => ({ x: 0.09, y })), pointStyle: 'line', pointRadius: 4, pointBorderWidth: 1, pointBorderColor: 'rgba(255,255,255,0.75)', order: 1 },
            { type: 'scatter', data: colorbarTicks.map(y => ({ x: 0.91, y })), pointStyle: 'line', pointRadius: 4, pointBorderWidth: 1, pointBorderColor: 'rgba(255,255,255,0.75)', order: 1 }
        ]
    },
    options: {
        layout: { padding: { left: 6, top: 11, bottom: 12 } },
        plugins: { box: { color: 'rgba(0,0,0,0)', width: 0 } },
        scales: {
            x: { type: 'linear', display: false, min: 0, max: 1, offset: false },
            y: {
                type: 'linear', position: 'right', min: -2.22, max: 2.1, beginAtZero: false,
                grid: { display: false },
                border: { display: false },
                afterBuildTicks: fixedTicks(colorbarTicks),
                afterFit: fitScale(51),
                ticks: { autoSkip: false, padding: 6, labelOffset: 2, color: '#222', font: { size: 22 }, callback: v => String(v) }
            }
        }
    }
});
</script>
</body>
</html>
